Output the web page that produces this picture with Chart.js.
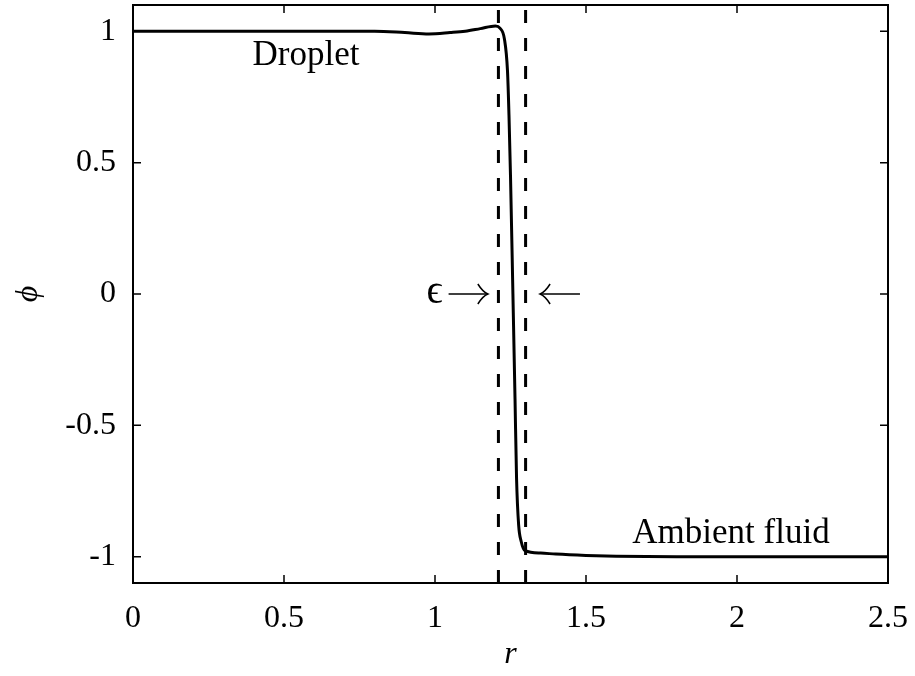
<!DOCTYPE html>
<html>
<head>
<meta charset="utf-8">
<script src="https://cdn.jsdelivr.net/npm/chart.js@4/dist/chart.umd.min.js"></script>
<style>
  html, body { margin: 0; padding: 0; background: #fff; }
  #wrap { width: 915px; height: 676px; }
</style>
</head>
<body>
<div id="wrap"><canvas id="phiChart" width="915" height="676"></canvas></div>
<script>
// phase field profile
const rValues = [0, 0.2, 0.4, 0.6, 0.8, 0.9, 0.98, 1.05, 1.1, 1.15, 1.2, 1.215, 1.23, 1.24, 1.245, 1.25, 1.258, 1.265, 1.27, 1.277, 1.285, 1.298, 1.35, 1.4, 1.5, 1.6, 1.8, 2.0, 2.5];
const phiValues = [1.0, 1.0, 1.0, 1.0, 1.0, 0.995, 0.99, 0.995, 1.0, 1.01, 1.02, 1.012, 0.97, 0.85, 0.68, 0.45, 0.0, -0.4, -0.7, -0.88, -0.94, -0.977, -0.986, -0.99, -0.995, -0.998, -1.0, -1.0, -1.0];

// interface width markers
const epsLeft = 1.21;
const epsRight = 1.30;

const xTicks = [0, 0.5, 1, 1.5, 2, 2.5];
const yTicks = [-1, -0.5, 0, 0.5, 1];

const FONT = "'Liberation Serif', 'Times New Roman', serif";

const profile = rValues.map((r, i) => ({ x: r, y: phiValues[i] }));

// inward tick marks on all four sides plus the box, like matlab
const boxPlugin = {
  id: "box",
  afterDraw(chart) {
    const ctx = chart.ctx;
    const a = chart.chartArea;
    const xs = chart.scales.x, ys = chart.scales.y;
    ctx.save();
    ctx.strokeStyle = "#000";
    ctx.lineWidth = 2;
    ctx.strokeRect(a.left, a.top, a.right - a.left, a.bottom - a.top);
    ctx.lineWidth = 1.5;
    xTicks.forEach(v => {
      const px = xs.getPixelForValue(v);
      ctx.beginPath();
      ctx.moveTo(px, a.bottom); ctx.lineTo(px, a.bottom - 8);
      ctx.moveTo(px, a.top); ctx.lineTo(px, a.top + 8);
      ctx.stroke();
    });
    yTicks.forEach(v => {
      const py = ys.getPixelForValue(v);
      ctx.beginPath();
      ctx.moveTo(a.left, py); ctx.lineTo(a.left + 8, py);
      ctx.moveTo(a.right, py); ctx.lineTo(a.right - 8, py);
      ctx.stroke();
    });
    ctx.restore();
  }
};

// text labels inside the plot
const notes = [
  { text: "Droplet", x: 0.573, y: 0.905, align: "center" },
  { text: "Ambient fluid", x: 1.98, y: -0.913, align: "center" }
];

// epsilon marker arrows: from r0 to r1 at phi = 0
const arrows = [
  { from: 1.045, to: 1.175 },
  { from: 1.48, to: 1.348 }
];

function drawArrow(ctx, x0, x1, y) {
  const dir = Math.sign(x1 - x0);
  ctx.beginPath();
  ctx.moveTo(x0, y);
  ctx.lineTo(x1, y);
  ctx.stroke();
  // curved open head
  ctx.beginPath();
  ctx.moveTo(x1 - dir * 10, y - 10);
  ctx.quadraticCurveTo(x1 - dir * 5, y - 2, x1, y);
  ctx.quadraticCurveTo(x1 - dir * 5, y + 2, x1 - dir * 10, y + 10);
  ctx.stroke();
}

const notesPlugin = {
  id: "notes",
  afterDatasetsDraw(chart) {
    const ctx = chart.ctx;
    const xs = chart.scales.x, ys = chart.scales.y;
    ctx.save();
    ctx.fillStyle = "#000";
    ctx.strokeStyle = "#000";
    ctx.font = "35px " + FONT;
    ctx.textBaseline = "middle";
    notes.forEach(n => {
      ctx.textAlign = n.align;
      ctx.fillText(n.text, xs.getPixelForValue(n.x), ys.getPixelForValue(n.y));
    });
    const y0 = ys.getPixelForValue(0);
    ctx.font = "40px " + FONT;
    ctx.textAlign = "right";
    ctx.fillText("ϵ", xs.getPixelForValue(arrows[0].from) - 6, y0 - 2);
    ctx.lineWidth = 1.5;
    arrows.forEach(a => drawArrow(ctx, xs.getPixelForValue(a.from), xs.getPixelForValue(a.to), y0));
    ctx.restore();
  }
};

const ctx = document.getElementById("phiChart").getContext("2d");

new Chart(ctx, {
  type: "line",
  data: {
    datasets: [
      {
        data: profile,
        borderColor: "#000",
        borderWidth: 3,
        pointRadius: 0,
        cubicInterpolationMode: "monotone",
        fill: false
      },
      {
        data: [{ x: epsLeft, y: -1.1 }, { x: epsLeft, y: 1.1 }],
        borderColor: "#000",
        borderWidth: 3,
        borderDash: [13, 15],
        pointRadius: 0
      },
      {
        data: [{ x: epsRight, y: -1.1 }, { x: epsRight, y: 1.1 }],
        borderColor: "#000",
        borderWidth: 3,
        borderDash: [13, 15],
        pointRadius: 0
      }
    ]
  },
  options: {
    responsive: false,
    animation: false,
    layout: { padding: { top: 5, right: 27, left: 0, bottom: 0 } },
    plugins: {
      legend: { display: false },
      tooltip: { enabled: false }
    },
    scales: {
      x: {
        type: "linear",
        min: 0,
        max: 2.5,
        afterBuildTicks: s => { s.ticks = xTicks.map(v => ({ value: v })); },
        afterFit: s => { s.height = 93; s.paddingLeft = 0; s.paddingRight = 0; },
        grid: { display: false, drawTicks: false },
        border: { display: false },
        ticks: {
          color: "#000",
          font: { family: FONT, size: 32 },
          padding: 16,
          maxRotation: 0,
          callback: v => String(v)
        },
        title: {
          display: true,
          text: "r",
          color: "#000",
          font: { family: FONT, size: 32, style: "italic" },
          padding: { top: 0, bottom: 2 }
        }
      },
      y: {
        type: "linear",
        min: -1.1,
        max: 1.1,
        afterBuildTicks: s => { s.ticks = yTicks.map(v => ({ value: v })); },
        afterFit: s => { s.width = 133; s.paddingTop = 0; s.paddingBottom = 0; },
        grid: { display: false, drawTicks: false },
        border: { display: false },
        ticks: {
          color: "#000",
          font: { family: FONT, size: 32 },
          padding: 17,
          callback: v => String(v)
        },
        title: {
          display: true,
          text: "ϕ",
          color: "#000",
          font: { family: FONT, size: 32, style: "italic" },
          padding: { top: 9, bottom: 0 }
        }
      }
    }
  },
  plugins: [boxPlugin, notesPlugin]
});
</script>
</body>
</html>
